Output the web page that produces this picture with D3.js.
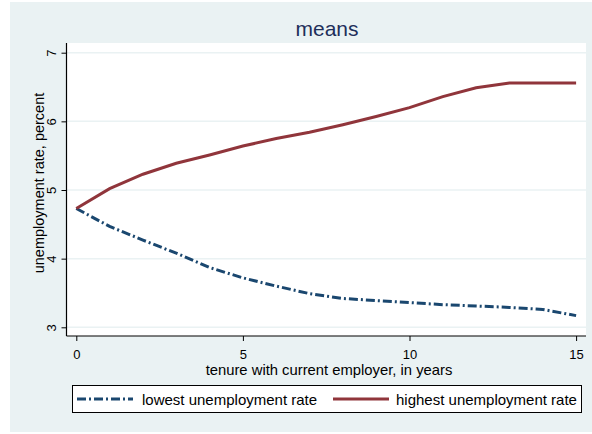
<!DOCTYPE html>
<html>
<head>
<meta charset="utf-8">
<script src="https://cdn.jsdelivr.net/npm/d3@7"></script>
<style>
  html, body { margin: 0; padding: 0; background: #ffffff; }
  svg { display: block; font-family: "Liberation Sans", Arial, sans-serif; }
</style>
</head>
<body>
<svg id="chart" width="592" height="434"></svg>
<script>
// Mean unemployment rate by tenure with current employer
const tenure = [0, 1, 2, 3, 4, 5, 6, 7, 8, 9, 10, 11, 12, 13, 14, 15];
const lowestRate = [4.73, 4.47, 4.27, 4.08, 3.87, 3.72, 3.60, 3.49, 3.42, 3.39, 3.36, 3.33, 3.31, 3.29, 3.26, 3.17];
const highestRate = [4.73, 5.02, 5.23, 5.39, 5.51, 5.64, 5.75, 5.84, 5.95, 6.07, 6.20, 6.36, 6.49, 6.56, 6.56, 6.56];
const xTicks = [0, 5, 10, 15];
const yTicks = [3, 4, 5, 6, 7];
const seriesNames = ["lowest unemployment rate", "highest unemployment rate"];

const svg = d3.select("#chart");
const navy = "#1a476f", maroon = "#90353b";
const tickFs = 13, labelFs = 15;

// graph region
svg.append("rect").attr("x", 10).attr("y", 2).attr("width", 582).attr("height", 430)
  .attr("fill", "#eaf2f3");

// plot region
const plotL = 66.5, plotR = 586, plotT = 43, plotB = 336;
svg.append("rect").attr("x", plotL).attr("y", plotT).attr("width", plotR - plotL).attr("height", plotB - plotT)
  .attr("fill", "#ffffff");

const x = d3.scaleLinear().domain([0, 15]).range([76.3, 576.1]);
const y = d3.scaleLinear().domain([3, 7]).range([327.3, 52.7]);

// horizontal grid lines
svg.append("g").selectAll("line").data(yTicks).join("line")
  .attr("x1", plotL).attr("x2", plotR)
  .attr("y1", d => y(d)).attr("y2", d => y(d))
  .attr("stroke", "#eaf2f3").attr("stroke-width", 1.5);

// axes
const yAxis = d3.axisLeft(y).tickValues(yTicks).tickFormat(d3.format("d")).tickSize(5).tickSizeOuter(0);
const gy = svg.append("g").attr("transform", `translate(${plotL},0)`).call(yAxis);
gy.select(".domain").attr("d", `M0,${plotT}V${plotB}`).attr("stroke", "#000").attr("stroke-width", 1.2);
gy.selectAll(".tick line").attr("stroke", "#000");
gy.selectAll(".tick text")
  .attr("font-size", tickFs).attr("fill", "#000")
  .attr("x", null).attr("dy", null)
  .attr("transform", "translate(-10.5,0) rotate(-90)")
  .attr("text-anchor", "middle");

const xAxis = d3.axisBottom(x).tickValues(xTicks).tickFormat(d3.format("d")).tickSize(5).tickSizeOuter(0);
const gx = svg.append("g").attr("transform", `translate(0,${plotB})`).call(xAxis);
gx.select(".domain").attr("d", `M${plotL},0H${plotR}`).attr("stroke", "#000").attr("stroke-width", 1.2);
gx.selectAll(".tick line").attr("stroke", "#000");
gx.selectAll(".tick text").attr("font-size", tickFs).attr("fill", "#000").attr("y", 23).attr("dy", null);

// titles
svg.append("text").attr("x", 327).attr("y", 36).attr("text-anchor", "middle")
  .attr("font-size", 21).attr("fill", "#1e2f5a").text("means");
svg.append("text").attr("x", 329).attr("y", 375).attr("text-anchor", "middle")
  .attr("font-size", 14.8).attr("fill", "#000").text("tenure with current employer, in years");
svg.append("text").attr("transform", `translate(43.5,183) rotate(-90)`)
  .attr("text-anchor", "middle").attr("font-size", 14.5).attr("fill", "#000")
  .text("unemployment rate, percent");

// series lines
const line = d3.line().x((d, i) => x(tenure[i])).y(d => y(d));
svg.append("path").datum(lowestRate).attr("d", line)
  .attr("fill", "none").attr("stroke", navy).attr("stroke-width", 3)
  .attr("stroke-dasharray", "9,3,2,3");
svg.append("path").datum(highestRate).attr("d", line)
  .attr("fill", "none").attr("stroke", maroon).attr("stroke-width", 3);

// legend
const lg = svg.append("g");
lg.append("rect").attr("x", 72.5).attr("y", 385.5).attr("width", 509).attr("height", 27)
  .attr("fill", "#fff").attr("stroke", "#000").attr("stroke-width", 1);
lg.append("line").attr("x1", 77).attr("x2", 133).attr("y1", 399).attr("y2", 399)
  .attr("stroke", navy).attr("stroke-width", 3).attr("stroke-dasharray", "9,3,2,3");
lg.append("text").attr("x", 142).attr("y", 405).attr("font-size", labelFs).attr("fill", "#000")
  .text(seriesNames[0]);
lg.append("line").attr("x1", 333).attr("x2", 389).attr("y1", 399).attr("y2", 399)
  .attr("stroke", maroon).attr("stroke-width", 3);
lg.append("text").attr("x", 396).attr("y", 405).attr("font-size", labelFs).attr("fill", "#000")
  .text(seriesNames[1]);
</script>
</body>
</html>
